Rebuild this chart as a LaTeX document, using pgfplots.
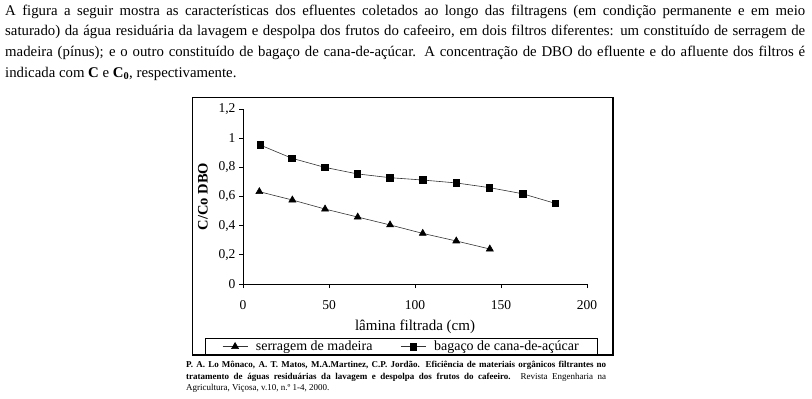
\documentclass[border=0pt]{standalone}
\usepackage{pgfplots}
\pgfplotsset{compat=1.18}
\usepackage{fontspec}
\setmainfont{Liberation Serif}
\begin{document}
\begin{tikzpicture}[x=1pt,y=1pt]
\useasboundingbox (0,0) rectangle (812,-399);
% paragraph
\node[anchor=north west, text width=800pt, align=justify, inner sep=0pt,
  font=\fontsize{14.8}{20.7}\selectfont] at (5,-4.5) {A figura a seguir mostra as características dos efluentes coletados ao longo das filtragens (em condição permanente e em meio\linebreak saturado) da água residuária da lavagem e despolpa dos frutos do cafeeiro, em dois filtros diferentes: um constituído de serragem de\linebreak madeira (pínus); e o outro constituído de bagaço de cana-de-açúcar. A concentração de DBO do efluente e do afluente dos filtros é\linebreak indicada com \textbf{C} e \textbf{C\textsubscript{0}}, respectivamente.};
% frame
\draw[line width=0.8pt] (192,-97) rectangle (613,-355);
\draw[line width=1.6pt] (613,-97) -- (613,-355) -- (192,-355);
\begin{axis}[
  at={(243pt,-284pt)}, anchor=south west,
  scale only axis, width=344pt, height=175pt,
  xmin=0, xmax=200, ymin=0, ymax=1.2,
  axis lines=left, axis line style={-, line width=0.7pt},
  xtick={0,50,100,150,200},
  ytick={0,0.2,0.4,0.6,0.8,1,1.2},
  tick align=outside, tick style={black, line width=0.7pt}, major tick length=4pt,
  /pgf/number format/assume math mode=true,
  /pgf/number format/use comma,
  tick label style={font=\fontsize{13.5}{15}\selectfont},
  xticklabel style={yshift=-9pt},
  xlabel={lâmina filtrada (cm)},
  xlabel style={font=\fontsize{15}{17}\selectfont, yshift=-3pt},
  ylabel={\textbf{C/Co DBO}},
  ylabel style={font=\fontsize{14.5}{17}\selectfont, yshift=4pt},
  legend columns=2,
  legend style={at={(axis description cs:-0.1105,-0.4057)}, anchor=south west,
    draw=black, line width=0.6pt, font=\fontsize{14}{16}\selectfont,
    inner xsep=17pt, inner ysep=0.5pt,
    /tikz/every odd column/.append style={column sep=6pt},
    /tikz/every even column/.append style={column sep=26pt}},
  legend image code/.code={\draw[#1, mark repeat=2, mark phase=2] plot coordinates {(0pt,0pt) (12.5pt,0pt) (25pt,0pt)};},
  clip=false,
]
\addplot[black!80, line width=0.6pt, mark=triangle*, mark size=4pt, mark options={black, solid}]
  coordinates {(9.5,0.633) (28.7,0.576) (47.7,0.514) (66.7,0.459) (85.5,0.405) (104.5,0.347) (124,0.295) (143.5,0.24)};
\addlegendentry{serragem de madeira}
\addplot[black!80, line width=0.6pt, mark=square*, mark size=3.3pt, mark options={black, solid}]
  coordinates {(10,0.953) (28.5,0.862) (47.5,0.80) (66.5,0.755) (85.5,0.729) (104.5,0.713) (124,0.693) (143.2,0.661) (162.5,0.619) (181.5,0.553)};
\addlegendentry{bagaço de cana-de-açúcar}
\end{axis}
% citation
\node[anchor=north west, text width=420pt, align=justify, inner sep=0pt,
  font=\fontsize{9}{11.5}\selectfont] at (186,-361) {\textbf{P. A. Lo Mônaco, A. T. Matos, M.A.Martinez, C.P. Jordão. Eficiência de materiais orgânicos filtrantes no\linebreak tratamento de águas residuárias da lavagem e despolpa dos frutos do cafeeiro.} Revista Engenharia na\linebreak Agricultura, Viçosa, v.10, n.º 1-4, 2000.};
\end{tikzpicture}
\end{document}
